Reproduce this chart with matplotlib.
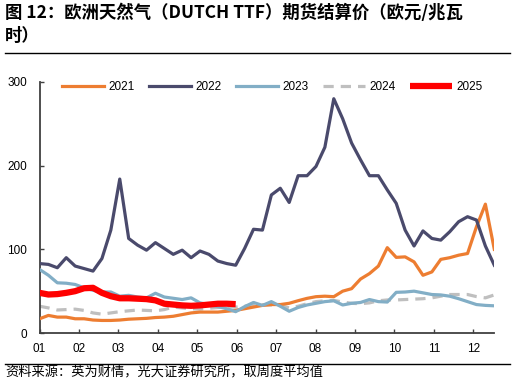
import numpy as np
import matplotlib
matplotlib.use("Agg")
import matplotlib.pyplot as plt
from matplotlib.lines import Line2D

plt.rcParams['font.family'] = ['Liberation Sans', 'Noto Sans CJK SC', 'DejaVu Sans']

title = "图 12：欧洲天然气（DUTCH TTF）期货结算价（欧元/兆瓦\n时）"
source = "资料来源：英为财情，光大证券研究所，取周度平均值"
month_labels = ["01", "02", "03", "04", "05", "06", "07", "08", "09", "10", "11", "12"]
series_names = ["2021", "2022", "2023", "2024", "2025"]

# weekly average settlement prices (EUR/MWh)
y2021 = [17, 21, 19, 19, 17, 17, 15.5, 15, 15, 15.5, 16.5, 17, 17.5, 18.5, 19, 20, 22, 24,
         25, 25, 25, 26, 27, 29, 31, 33, 34, 34, 35.5, 38.6, 41.4, 43.4, 44, 43.4, 50, 53,
         64.5, 71, 80, 102, 90.4, 91, 85, 69, 73, 88, 90, 93, 95, 127, 154, 100]
y2022 = [83, 82, 78, 90, 80, 77, 74, 89, 123, 184, 113, 105, 99, 108, 101, 94, 99, 90,
         98, 94, 86, 83, 81, 101, 124, 123, 165, 173, 156, 188, 188, 199, 222, 280, 256,
         227, 207, 188, 188, 171, 155, 123, 104, 122, 113, 111, 121, 133, 139, 135, 104, 81]
y2023 = [76, 69, 60, 59.5, 58, 54, 51, 49, 49, 44, 45, 43, 42, 47.5, 43, 41.5, 40, 42,
         36, 34, 31.5, 29, 25.5, 31.5, 36.5, 33, 37.5, 32, 26, 30.5, 33.5, 35.5, 37.5, 38.5,
         33.5, 35.5, 36.5, 40, 37.5, 37, 48.6, 49, 50, 48, 46, 45.5, 44, 41, 37.5, 34, 33, 32.5]
y2024 = [32, 30, 27.5, 28, 28.5, 27, 24, 22.5, 24, 25.5, 26.5, 27.5, 27, 26.5, 28, 31, 30,
         29, 28.5, 29.5, 30.5, 31, 31, 32, 33.5, 33.5, 33.5, 33, 30, 32, 35, 37.5, 38.5, 39,
         37, 35.5, 35, 36, 38.5, 39.5, 39.5, 40, 40.5, 41, 42, 44, 46, 46, 46, 43.5, 42, 45.5]
y2025 = [48, 46, 46.5, 48, 50, 53.5, 54, 48, 44, 41.5, 41.5, 41, 40.5, 39, 35, 34, 33,
         32.5, 33, 34, 35, 35, 34.5]

W, H = 516, 386
fig = plt.figure(figsize=(W / 100, H / 100), dpi=100)

x0, x1 = 39.5, 494.3
y0, y1 = 333.0, 82.0
ax = fig.add_axes([x0 / W, 1 - y0 / H, (x1 - x0) / W, (y0 - y1) / H])

colors = ["#ED7D31", "#4A4A6C", "#82AEC6", "#BFBFBF", "#FF0000"]
data = [y2021, y2022, y2023, y2024, y2025]
handles = []
for name, vals, c in zip(series_names, data, colors):
    xs = np.arange(len(vals))
    if name == "2024":
        ln, = ax.plot(xs, vals, color=c, lw=2.3, ls=(0, (3.2, 2.2)), label=name, zorder=2)
    elif name == "2025":
        ln, = ax.plot(xs, vals, color=c, lw=4.5, label=name, zorder=5, solid_capstyle='butt')
    else:
        ln, = ax.plot(xs, vals, color=c, lw=2.3, label=name, zorder=3)
    handles.append(ln)

n = len(y2021) - 1
ax.set_xlim(0, n)
ax.set_ylim(0, 300)
ax.set_yticks([0, 100, 200, 300])
tick_step = n * (473.3 - 39.3) / (494.3 - 39.3) / 11
ax.set_xticks(np.arange(12) * tick_step)
ax.set_xticklabels(month_labels)

for s in ["top", "right"]:
    ax.spines[s].set_visible(False)
for s in ["left", "bottom"]:
    ax.spines[s].set_color("#404040")
    ax.spines[s].set_linewidth(1.3)
ax.tick_params(axis="both", direction="in", length=3, width=1, color="#404040",
               labelsize=8.5, labelcolor="#000000")
ax.tick_params(axis="y", pad=9)
ax.tick_params(axis="x", pad=7)

leg = ax.legend(handles=handles, loc="upper center", bbox_to_anchor=(0.512, 1.045), ncol=5,
                frameon=False, fontsize=8.5, handlelength=3.55, handletextpad=0.34,
                columnspacing=1.27)

fig.text(5 / W, 1 - 4 / H, title, ha="left", va="top", fontsize=12.5, fontweight="bold",
         family=["Noto Sans CJK SC", "DejaVu Sans"], linespacing=1.35)
fig.add_artist(Line2D([5 / W, 510 / W], [1 - 52.5 / H, 1 - 52.5 / H], color="#000000", lw=1.0))
fig.add_artist(Line2D([5 / W, 510 / W], [1 - 364.3 / H, 1 - 364.3 / H], color="#000000", lw=1.0))
fig.text(5 / W, 1 - 373.5 / H, source, ha="left", va="center", fontsize=9.5,
         family=["Noto Sans CJK SC", "DejaVu Sans"])

fig.savefig("out.png", dpi=100)
